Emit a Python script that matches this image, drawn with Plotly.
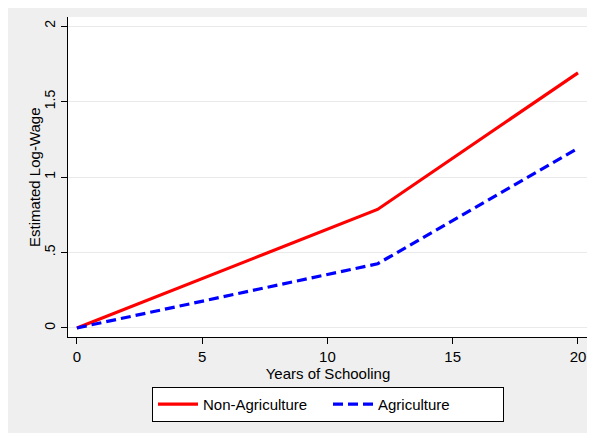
import plotly.graph_objects as go

years = [0, 12, 20]
non_agri = [0.0, 0.785, 1.69]
agri = [0.0, 0.425, 1.19]
y_tickvals = [0, 0.5, 1, 1.5, 2]
y_ticktext = ["0", ".5", "1", "1.5", "2"]
x_tickvals = [0, 5, 10, 15, 20]

FONT = "Liberation Sans"

fig = go.Figure()
fig.add_trace(go.Scatter(x=years, y=non_agri, mode="lines", name="Non-Agriculture",
                         line=dict(color="#ff0000", width=3.2)))
fig.add_trace(go.Scatter(x=years, y=agri, mode="lines", name="Agriculture",
                         line=dict(color="#0000ff", width=3.2, dash="10px,5px")))

fig.update_layout(
    width=582, height=425,
    margin=dict(l=60, r=2, t=9, b=96),
    paper_bgcolor="#efefef", plot_bgcolor="white",
    font=dict(family=FONT, size=15, color="black"),
    xaxis=dict(range=[-0.355, 20.4], tickvals=x_tickvals, showgrid=False, zeroline=False,
               showline=True, linecolor="black", linewidth=1, ticks="outside", ticklen=6,
               tickcolor="black", title=dict(text="Years of Schooling", standoff=2,
                                             font=dict(family=FONT, size=15)),
               tickfont=dict(family=FONT, size=15)),
    yaxis=dict(range=[-0.06, 2.06], tickvals=y_tickvals, ticktext=y_ticktext, tickangle=-90,
               showgrid=True, gridcolor="#eaeaea", gridwidth=1, zeroline=False,
               showline=True, linecolor="black", linewidth=1, ticks="outside", ticklen=6,
               tickcolor="black", tickfont=dict(family=FONT, size=14)),
    annotations=[dict(text="Estimated Log-Wage", xref="paper", yref="paper", x=0, y=0.5,
                      xshift=-34, textangle=-90, showarrow=False, xanchor="center",
                      yanchor="middle", font=dict(family=FONT, size=15))],
    showlegend=True,
    legend=dict(orientation="h", x=0.5, xanchor="center", y=-0.156, yanchor="top",
                bgcolor="white", bordercolor="black", borderwidth=1,
                font=dict(family=FONT, size=15), entrywidth=120, itemwidth=40),
)

fig.write_html("out.html")
